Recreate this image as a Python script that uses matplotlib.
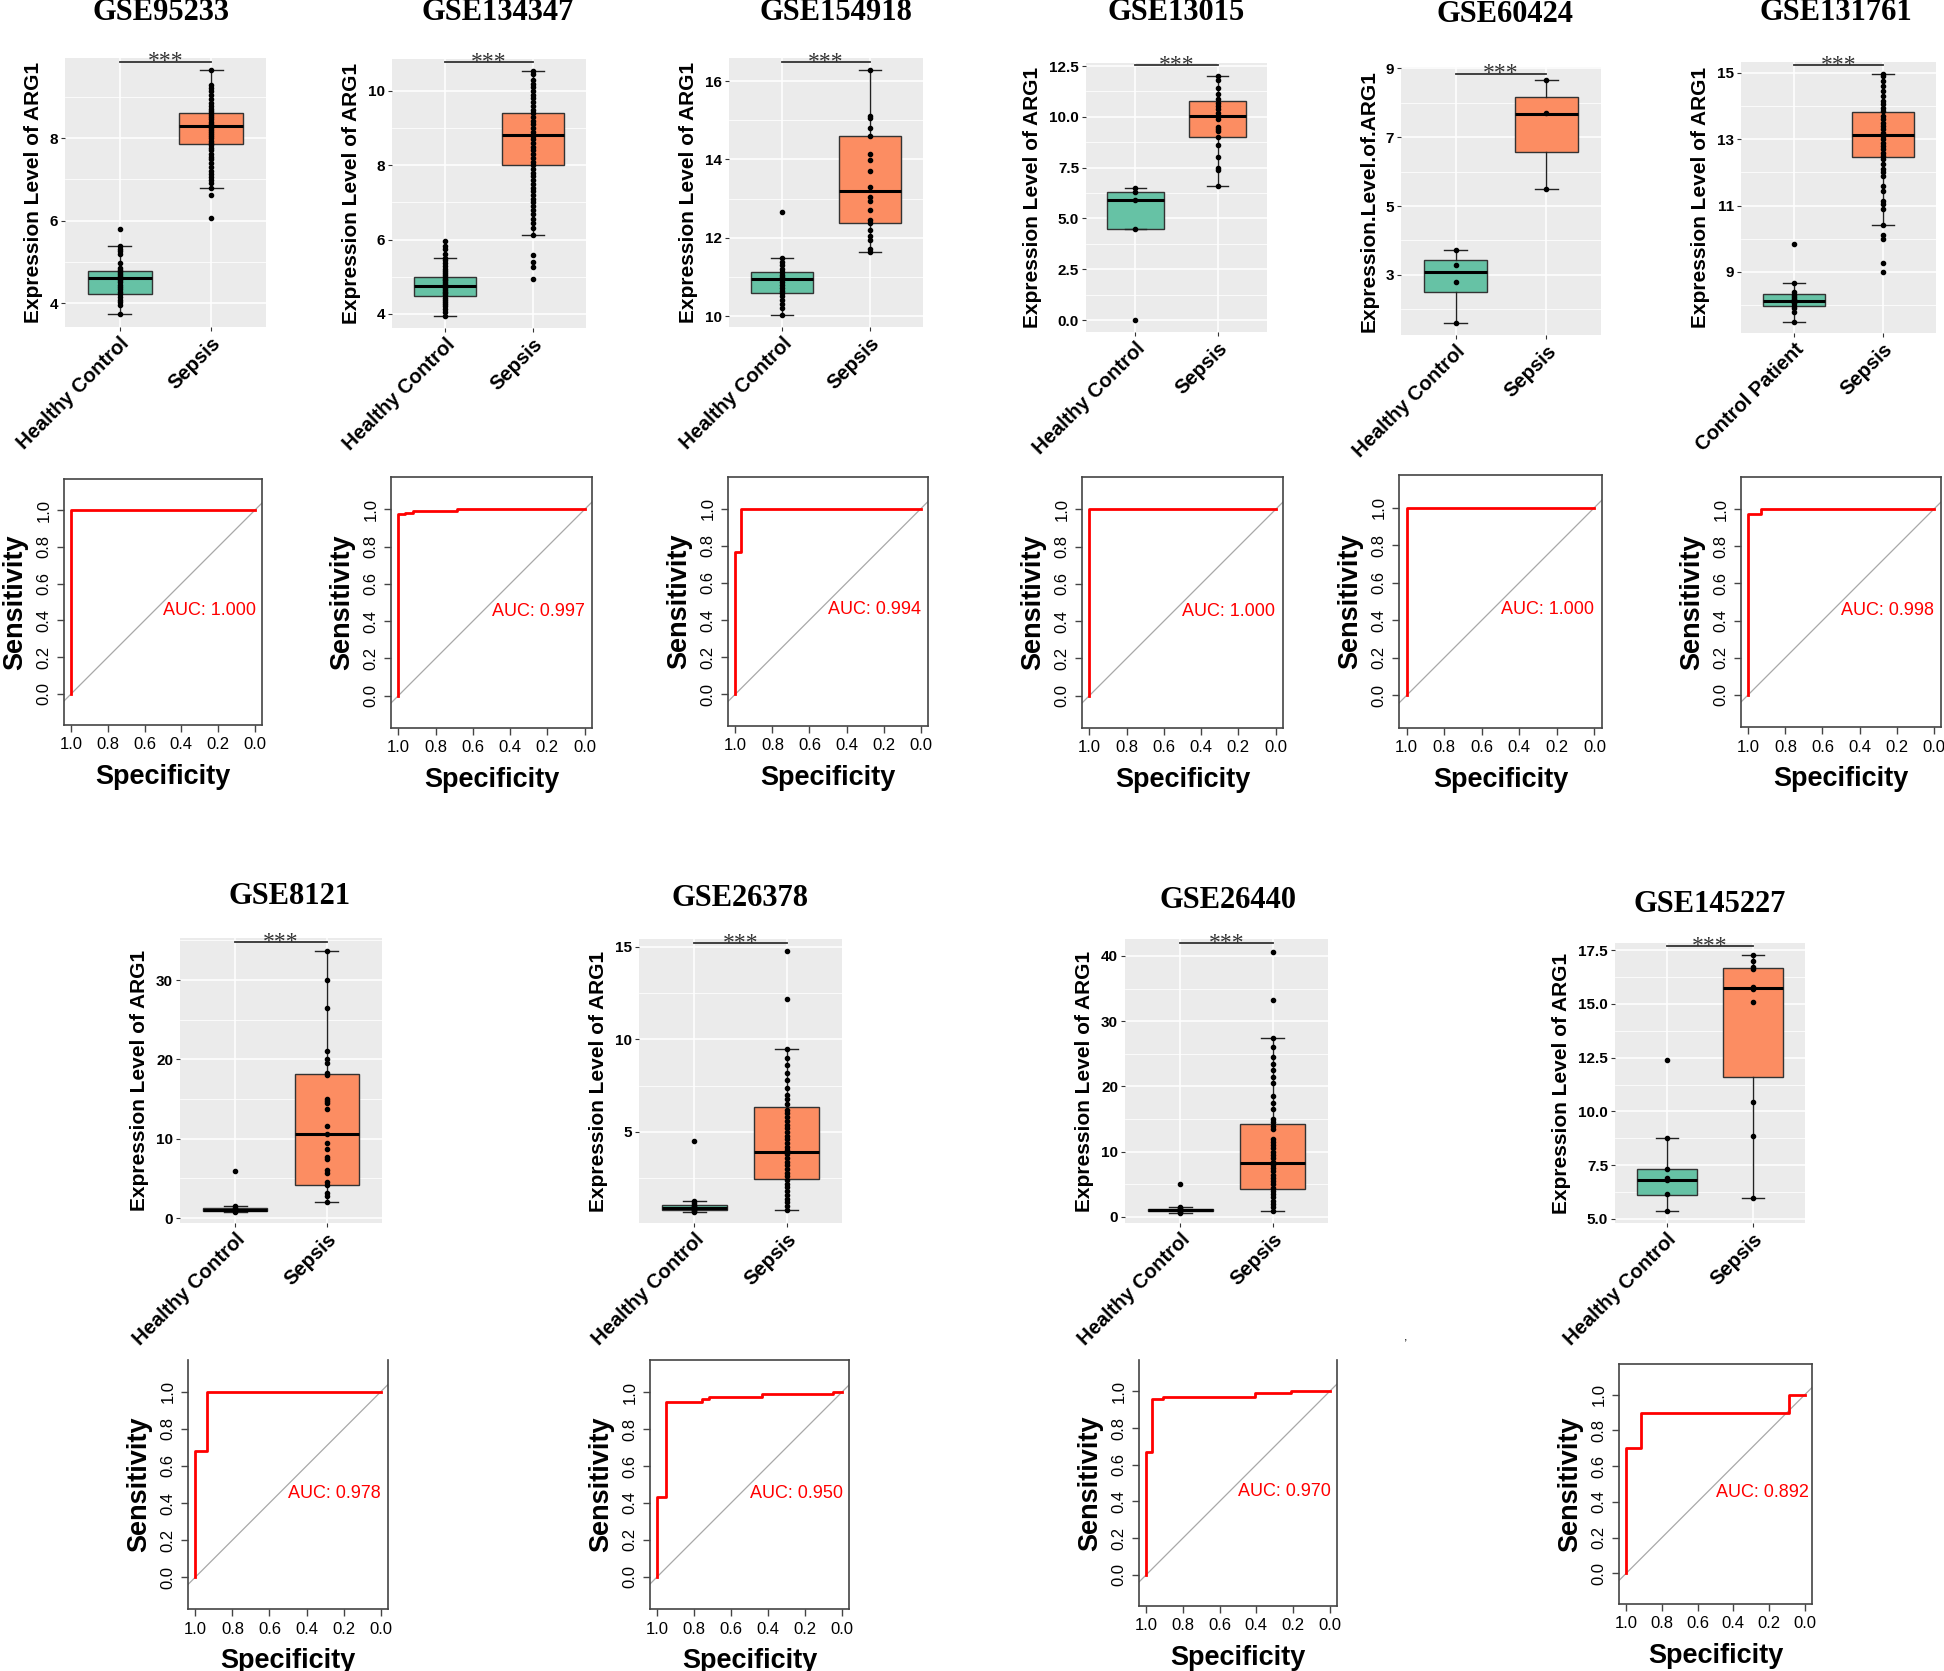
import matplotlib
matplotlib.use("Agg")
import matplotlib.pyplot as plt
import matplotlib.transforms as mtransforms
from matplotlib.ticker import FixedLocator

plt.rcParams["font.family"] = ["Liberation Sans", "DejaVu Sans"]

W, H = 1944, 1671

# ---------------- data ----------------
datasets = ["GSE95233", "GSE134347", "GSE154918", "GSE13015", "GSE60424",
            "GSE131761", "GSE8121", "GSE26378", "GSE26440", "GSE145227"]
ctrl_names = ["Healthy Control"] * 5 + ["Control Patient"] + ["Healthy Control"] * 4
ylabels = ["Expression Level of ARG1"] * 4 + ["Expression.Level.of.ARG1"] + \
          ["Expression Level of ARG1"] * 5

# box stats: (whisker low, q1, median, q3, whisker high)
ctrl_box = [(3.73, 4.22, 4.60, 4.78, 5.38), (3.95, 4.48, 4.75, 4.99, 5.50),
            (10.02, 10.59, 10.94, 11.12, 11.48), (4.50, 4.50, 5.90, 6.28, 6.50),
            (1.60, 2.51, 3.08, 3.43, 3.72), (7.50, 7.98, 8.13, 8.35, 8.67),
            (0.80, 0.92, 1.05, 1.20, 1.50), (0.65, 0.78, 0.90, 1.05, 1.25),
            (0.60, 0.85, 1.00, 1.15, 1.50), (5.37, 6.10, 6.82, 7.30, 8.77)]
sep_box = [(6.80, 7.85, 8.30, 8.60, 9.65), (6.12, 8.00, 8.82, 9.42, 10.55),
           (11.63, 12.37, 13.19, 14.60, 16.28), (6.60, 9.00, 10.05, 10.80, 12.00),
           (5.50, 6.57, 7.68, 8.16, 8.65), (10.43, 12.47, 13.13, 13.83, 14.97),
           (2.00, 4.15, 10.60, 18.20, 33.60), (0.78, 2.46, 3.90, 6.35, 9.50),
           (0.90, 4.30, 8.20, 14.30, 27.50), (5.95, 11.60, 15.75, 16.65, 17.27)]

ctrl_pts_95233 = [5.79, 5.38, 5.32, 5.25, 5.18, 4.98, 4.85, 4.8, 4.75, 4.7, 4.65, 4.6, 4.57,
                  4.5, 4.45, 4.4, 4.35, 4.28, 4.22, 4.15, 4.08, 4.02, 3.95, 3.73]
sep_pts_95233 = [6.06, 6.62, 6.8, 6.9, 6.98, 7.05, 7.12, 7.2, 7.3, 7.4, 7.48, 7.55, 7.62, 7.7,
                 7.76, 7.82, 7.88, 7.94, 8.0, 8.05, 8.1, 8.15, 8.2, 8.25, 8.3, 8.35, 8.4, 8.45,
                 8.5, 8.55, 8.6, 8.65, 8.7, 8.78, 8.85, 8.95, 9.05, 9.15, 9.22, 9.28, 9.65]
ctrl_pts_134347 = [3.95, 4.05, 4.12, 4.2, 4.26, 4.32, 4.38, 4.44, 4.5, 4.55, 4.6, 4.65, 4.7,
                   4.75, 4.8, 4.85, 4.9, 4.95, 5.0, 5.05, 5.1, 5.15, 5.2, 5.28, 5.36, 5.45,
                   5.5, 5.62, 5.75, 5.82, 5.97]
sep_pts_134347 = [4.93, 5.25, 5.4, 5.58, 6.12, 6.3, 6.45, 6.55, 6.7, 6.8, 6.9, 7.0, 7.1, 7.2,
                  7.3, 7.4, 7.5, 7.6, 7.7, 7.8, 7.9, 8.0, 8.1, 8.2, 8.3, 8.4, 8.5, 8.6, 8.7,
                  8.8, 8.9, 9.0, 9.1, 9.2, 9.3, 9.4, 9.5, 9.6, 9.7, 9.8, 9.9, 10.0, 10.1,
                  10.2, 10.3, 10.45, 10.55]
ctrl_pts_154918 = [10.02, 10.2, 10.3, 10.4, 10.5, 10.58, 10.65, 10.72, 10.8, 10.88, 10.94,
                   11.0, 11.05, 11.12, 11.2, 11.3, 11.38, 11.48, 12.65]
sep_pts_154918 = [11.63, 11.72, 11.95, 12.05, 12.2, 12.38, 12.45, 12.7, 12.95, 13.05, 13.3,
                  13.7, 13.98, 14.15, 14.6, 14.8, 15.05, 15.1, 16.28]
ctrl_pts_13015 = [0.0, 4.5, 5.9, 6.3, 6.5]
sep_pts_13015 = [6.6, 7.4, 7.5, 8.0, 8.6, 9.0, 9.3, 9.4, 9.5, 9.9, 10.05, 10.2, 10.4, 10.55,
                 10.7, 10.9, 11.1, 11.4, 11.8, 12.0]
ctrl_pts_60424 = [1.6, 2.8, 3.3, 3.72]
sep_pts_60424 = [5.5, 7.7, 8.65]
ctrl_pts_131761 = [7.5, 7.8, 7.9, 7.98, 8.05, 8.1, 8.15, 8.2, 8.26, 8.32, 8.4, 8.67, 9.84]
sep_pts_131761 = [9.0, 9.27, 9.99, 10.1, 10.43, 10.9, 11.05, 11.15, 11.45, 11.6, 11.9, 12.0,
                  12.1, 12.25, 12.4, 12.5, 12.6, 12.7, 12.8, 12.9, 13.0, 13.1, 13.2, 13.3,
                  13.4, 13.5, 13.6, 13.7, 13.85, 13.95, 14.05, 14.15, 14.3, 14.45, 14.6,
                  14.75, 14.9, 14.97]
ctrl_pts_8121 = [0.8, 0.9, 1.0, 1.05, 1.1, 1.2, 1.5, 5.9]
sep_pts_8121 = [2.0, 2.8, 3.2, 4.2, 4.5, 5.7, 6.0, 7.5, 7.7, 8.7, 9.5, 10.6, 11.6, 13.7, 14.5,
                14.7, 15.0, 18.0, 18.3, 19.5, 20.0, 21.0, 26.5, 30.0, 33.6]
ctrl_pts_26378 = [0.65, 0.75, 0.8, 0.85, 0.9, 0.95, 1.0, 1.05, 1.15, 1.25, 4.5]
sep_pts_26378 = [0.78, 1.0, 1.2, 1.4, 1.6, 1.8, 2.0, 2.2, 2.4, 2.6, 2.8, 3.0, 3.2, 3.4, 3.6,
                 3.8, 4.0, 4.2, 4.4, 4.6, 4.8, 5.0, 5.2, 5.4, 5.6, 5.8, 6.0, 6.2, 6.5, 6.8,
                 7.0, 7.4, 7.8, 8.2, 8.6, 9.0, 9.5, 12.2, 14.8]
ctrl_pts_26440 = [0.6, 0.8, 0.9, 1.0, 1.1, 1.2, 1.35, 1.5, 5.1]
sep_pts_26440 = [0.9, 1.5, 2.0, 2.5, 3.0, 3.5, 4.0, 4.5, 5.0, 5.5, 6.0, 6.5, 7.0, 7.5, 8.0,
                 8.5, 9.0, 9.5, 10.0, 10.5, 11.0, 11.5, 12.0, 13.5, 14.0, 14.5, 15.0, 16.5,
                 17.5, 18.5, 20.5, 21.5, 22.5, 23.5, 24.5, 26.0, 27.5, 33.3, 40.6]
ctrl_pts_145227 = [5.37, 6.15, 6.8, 6.9, 7.3, 8.77, 12.4]
sep_pts_145227 = [5.95, 8.85, 10.45, 15.1, 15.7, 15.8, 16.6, 16.7, 17.0, 17.27]

ctrl_pts = [ctrl_pts_95233, ctrl_pts_134347, ctrl_pts_154918, ctrl_pts_13015, ctrl_pts_60424,
            ctrl_pts_131761, ctrl_pts_8121, ctrl_pts_26378, ctrl_pts_26440, ctrl_pts_145227]
sep_pts = [sep_pts_95233, sep_pts_134347, sep_pts_154918, sep_pts_13015, sep_pts_60424,
           sep_pts_131761, sep_pts_8121, sep_pts_26378, sep_pts_26440, sep_pts_145227]

yticks = [[4, 6, 8], [4, 6, 8, 10], [10, 12, 14, 16], [0.0, 2.5, 5.0, 7.5, 10.0, 12.5],
          [3, 5, 7, 9], [9, 11, 13, 15], [0, 10, 20, 30], [5, 10, 15], [0, 10, 20, 30, 40],
          [5.0, 7.5, 10.0, 12.5, 15.0, 17.5]]
ytick_fmt = ["%d", "%d", "%d", "%.1f", "%d", "%d", "%d", "%d", "%d", "%.1f"]
ylims = [(3.42, 9.94), (3.62, 10.86), (9.72, 16.59), (-0.59, 12.65), (1.26, 9.03),
         (7.16, 15.33), (-0.63, 35.3), (0.08, 15.43), (-0.92, 42.6), (4.81, 17.83)]

# ROC steps (specificity, sensitivity)
roc_spec = [[1, 1, 0],
            [1, 1, 0.964, 0.964, 0.923, 0.923, 0.683, 0.683, 0],
            [1, 1, 0.97, 0.97, 0],
            [1, 1, 0],
            [1, 1, 0],
            [1, 1, 0.934, 0.934, 0],
            [1, 1, 0.935, 0.935, 0],
            [1, 1, 0.955, 0.955, 0.76, 0.76, 0.72, 0.72, 0.43, 0.43, 0.045, 0.045, 0],
            [1, 1, 0.97, 0.97, 0.91, 0.91, 0.405, 0.405, 0.21, 0.21, 0],
            [1, 1, 0.916, 0.916, 0.087, 0.087, 0]]
roc_sens = [[0, 1, 1],
            [0, 0.975, 0.975, 0.982, 0.982, 0.993, 0.993, 1, 1],
            [0, 0.77, 0.77, 1, 1],
            [0, 1, 1],
            [0, 1, 1],
            [0, 0.975, 0.975, 1, 1],
            [0, 0.68, 0.68, 1, 1],
            [0, 0.43, 0.43, 0.95, 0.95, 0.965, 0.965, 0.975, 0.975, 0.99, 0.99, 1, 1],
            [0, 0.67, 0.67, 0.96, 0.96, 0.97, 0.97, 0.99, 0.99, 1, 1],
            [0, 0.70, 0.70, 0.90, 0.90, 1, 1]]
auc_text = ["1.000", "0.997", "0.994", "1.000", "1.000", "0.998", "0.978", "0.950",
            "0.970", "0.892"]

# ---------------- layout (pixel boxes: x0, y0, x1, y1) ----------------
box_px = [(65, 58, 266, 327), (392, 59, 586, 328), (729, 58, 923, 327),
          (1086, 63, 1267, 332), (1401, 67, 1601, 335), (1741, 62, 1936, 333),
          (180, 938, 382, 1223), (639, 939, 842, 1223), (1125, 939, 1328, 1223),
          (1615, 943, 1805, 1223)]
roc_px = [(64, 479, 262, 725), (391, 477, 592, 728), (728, 477, 928, 726),
          (1082, 477, 1283, 728), (1399, 475, 1602, 728), (1741, 477, 1941, 727),
          (188, 1360, 388, 1609), (650, 1360, 849, 1609), (1139, 1360, 1337, 1606),
          (1619, 1364, 1812, 1604)]
title_px = [(161, 13), (498, 13), (836, 13), (1176, 13), (1505, 15), (1836, 12),
            (290, 897), (740, 898), (1228, 900), (1710, 905)]
bar_frac = [0.986, 0.988, 0.985, 0.992, 0.975, 0.989, 0.986, 0.986, 0.986, 0.988]

CTRL_COL = "#66C2A5"
SEP_COL = "#FC8D62"


def px_axes(fig, box):
    x0, y0, x1, y1 = box
    return fig.add_axes([x0 / W, 1 - y1 / H, (x1 - x0) / W, (y1 - y0) / H])


def box_panel(ax, i):
    ax.set_facecolor("#EBEBEB")
    for s in ax.spines.values():
        s.set_visible(False)
    ax.set_axisbelow(True)

    stats = []
    for vals, lab in ((ctrl_box[i], ctrl_names[i]), (sep_box[i], "Sepsis")):
        lo, q1, med, q3, hi = vals
        stats.append(dict(label=lab, whislo=lo, q1=q1, med=med, q3=q3, whishi=hi, fliers=[]))
    bp = ax.bxp(stats, positions=[1, 2], widths=0.7, patch_artist=True, showfliers=False,
                capwidths=0.25,
                boxprops=dict(edgecolor="#333333", linewidth=1.0),
                whiskerprops=dict(color="#222222", linewidth=1.0),
                capprops=dict(color="#222222", linewidth=1.0),
                medianprops=dict(color="black", linewidth=2.2))
    bp["boxes"][0].set_facecolor(CTRL_COL)
    bp["boxes"][1].set_facecolor(SEP_COL)

    ax.plot([1] * len(ctrl_pts[i]), ctrl_pts[i], "o", ms=3, color="black", zorder=5)
    ax.plot([2] * len(sep_pts[i]), sep_pts[i], "o", ms=3, color="black", zorder=5)

    ax.set_xlim(0.4, 2.6)
    ax.set_ylim(*ylims[i])
    ticks = yticks[i]
    step = ticks[1] - ticks[0]
    minors = [ticks[0] - step / 2] + [t + step / 2 for t in ticks]
    ax.yaxis.set_major_locator(FixedLocator(ticks))
    ax.yaxis.set_minor_locator(FixedLocator(minors))
    ax.set_yticklabels([ytick_fmt[i] % t for t in ticks], fontsize=11, fontweight="bold")
    ax.grid(which="major", color="white", lw=1.1)
    ax.grid(which="minor", axis="y", color="white", lw=0.55)
    ax.tick_params(which="minor", length=0)
    ax.tick_params(which="major", length=3, width=0.8, color="#333333", pad=2)

    ax.set_xticks([1, 2])
    ax.set_xticklabels([ctrl_names[i], "Sepsis"], rotation=45, ha="right",
                       rotation_mode="anchor", fontsize=14.5, fontweight="bold")
    ax.set_ylabel(ylabels[i], fontsize=15, fontweight="bold", labelpad=5)

    # significance bar
    trans = mtransforms.blended_transform_factory(ax.transData, ax.transAxes)
    ax.plot([1, 2], [bar_frac[i]] * 2, color="#333333", lw=1.3, transform=trans,
            clip_on=False, zorder=6)
    ax.annotate("***", xy=(1.5, bar_frac[i]), xycoords=trans, xytext=(0, -4),
                textcoords="offset points", ha="center", va="baseline",
                fontsize=17, color="#333333", family="Liberation Serif")


def roc_panel(ax, i, box):
    x0, y0, x1, y1 = box
    ax.plot(roc_spec[i], roc_sens[i], color="#FF0000", lw=2.0, zorder=3)
    ax.axline((1, 0), (0, 1), color="#A8A8A8", lw=0.9, zorder=2)
    ax.set_xlim(1.04, -0.04)
    yr = 1.08 * (y1 - y0) / (x1 - x0)
    ax.set_ylim(0.5 - yr / 2, 0.5 + yr / 2)
    t = [0.0, 0.2, 0.4, 0.6, 0.8, 1.0]
    ax.set_xticks(t)
    ax.set_yticks(t)
    ax.set_xticklabels(["%.1f" % v for v in t], fontsize=12)
    ax.set_yticklabels(["%.1f" % v for v in t], fontsize=12, rotation=90, va="center")
    ax.tick_params(length=5, width=1, color="#444444", pad=4)
    for s in ax.spines.values():
        s.set_color("#444444")
        s.set_linewidth(1.2)
    if i in (6, 8):
        ax.spines["top"].set_visible(False)
    ax.set_xlabel("Specificity", fontsize=19.5, fontweight="bold", labelpad=8)
    ax.set_ylabel("Sensitivity", fontsize=19.5, fontweight="bold", labelpad=6)
    ax.text(0.5, 0.5, "AUC: " + auc_text[i], color="#FF0000", ha="left", va="top",
            fontsize=13)


fig = plt.figure(figsize=(W / 100, H / 100), dpi=100)
for i in range(len(datasets)):
    box_panel(px_axes(fig, box_px[i]), i)
    roc_panel(px_axes(fig, roc_px[i]), i, roc_px[i])
    tx, ty = title_px[i]
    fig.text(tx / W, 1 - ty / H, datasets[i], ha="center", va="center", fontsize=22,
             fontweight="bold", family="Liberation Serif")

# stray mark in the original figure
fig.text(1406 / W, 1 - 1337 / H, ",", ha="center", va="center", fontsize=9)

fig.savefig("out.png", dpi=100, facecolor="white")
